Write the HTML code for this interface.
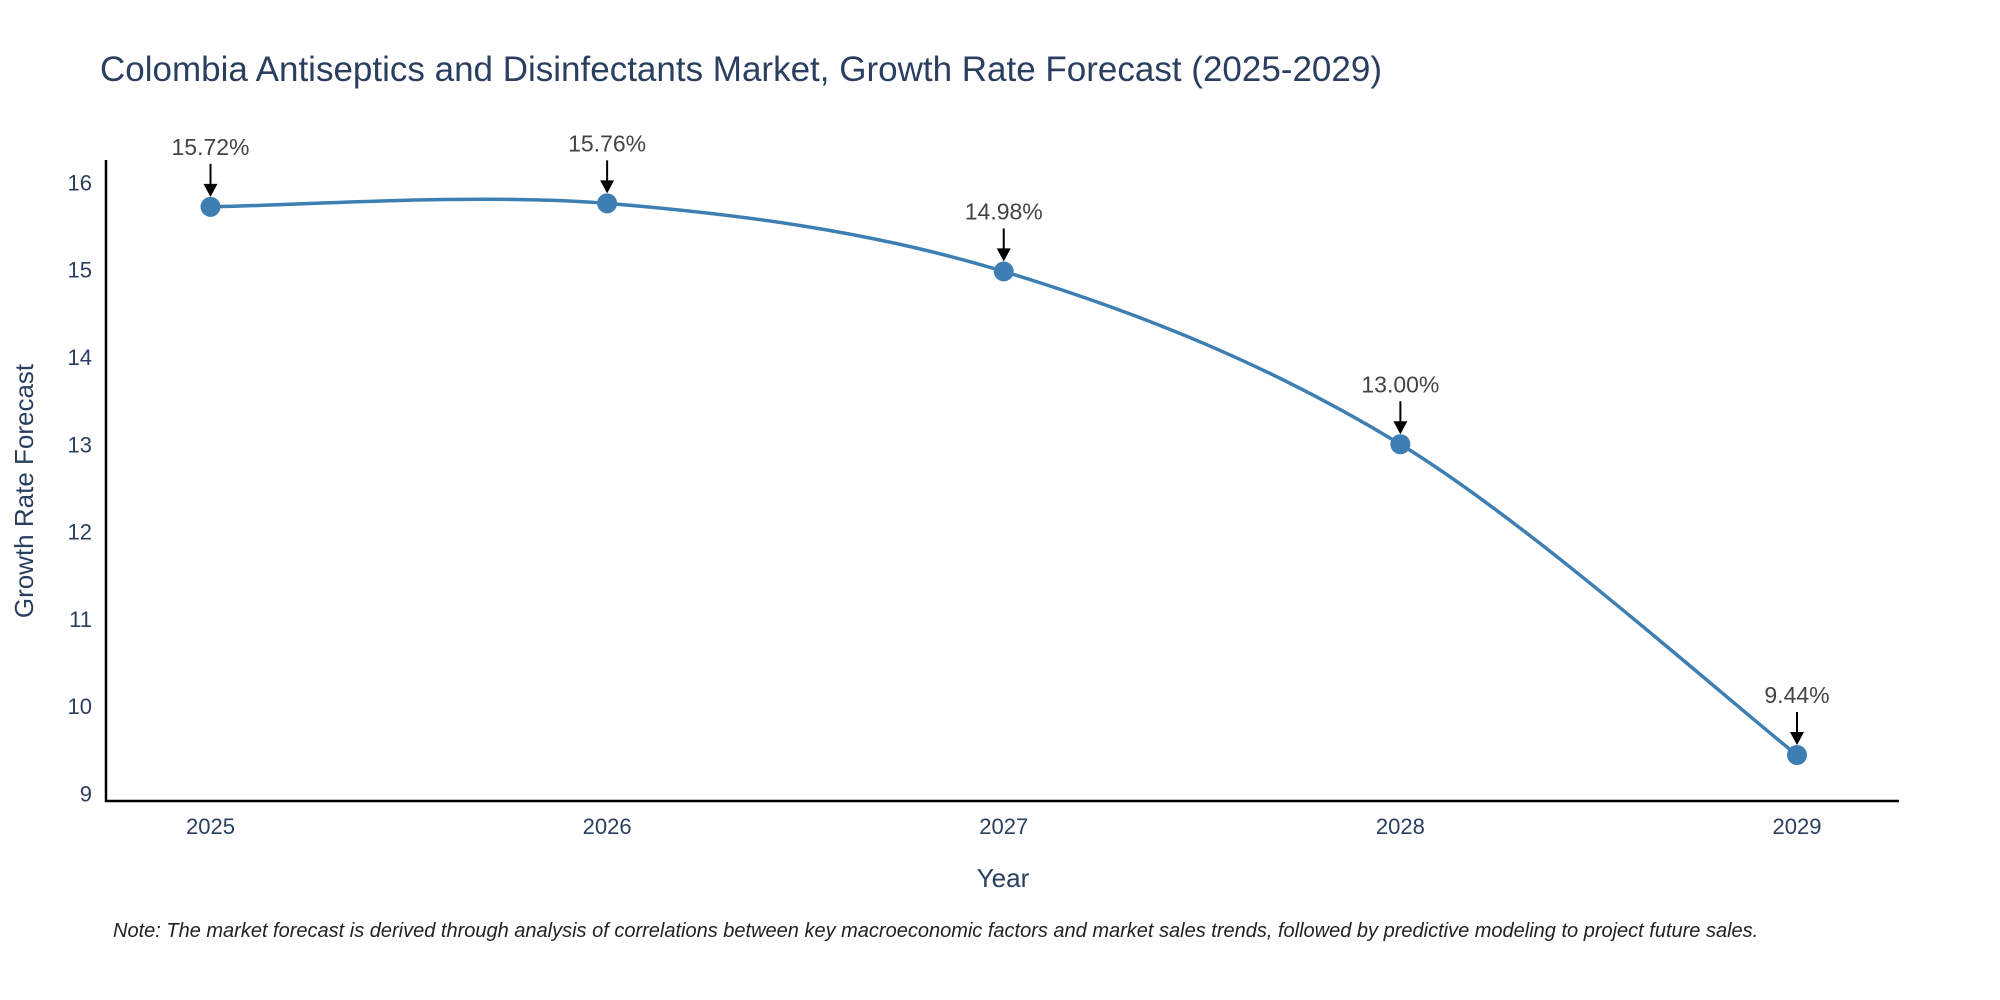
<!DOCTYPE html>
<html><head><meta charset="utf-8"><style>
body{margin:0;background:#fff;}
svg{display:block;font-family:"Liberation Sans",sans-serif;}
</style></head><body>
<svg id="chart" width="2000" height="1000">
<text x="100" y="81" font-size="35" fill="#2a3f5f">Colombia Antiseptics and Disinfectants Market, Growth Rate Forecast (2025-2029)</text>
<g id="yticks"></g><g id="xticks"></g>
<line x1="106" y1="160" x2="106" y2="802" stroke="#000" stroke-width="2.5"/>
<line x1="105" y1="801" x2="1899" y2="801" stroke="#000" stroke-width="2.5"/>
<path id="line" fill="none" stroke="#3d7fb3" stroke-width="3.5"/>
<g id="marks"></g>
<text x="1003" y="887" font-size="26" fill="#2a3f5f" text-anchor="middle">Year</text>
<text transform="translate(33,491) rotate(-90)" font-size="26" fill="#2a3f5f" text-anchor="middle">Growth Rate Forecast</text>
<text x="113" y="937" font-size="20" font-style="italic" fill="#222">Note: The market forecast is derived through analysis of correlations between key macroeconomic factors and market sales trends, followed by predictive modeling to project future sales.</text>
</svg>
<script>
const years=["2025","2026","2027","2028","2029"];
const values=[15.72,15.76,14.98,13.00,9.44];
const labels=["15.72%","15.76%","14.98%","13.00%","9.44%"];
const yTicks=[9,10,11,12,13,14,15,16];
const NS="http://www.w3.org/2000/svg";
const xs=i=>210.5+i*(1797-210.5)/(years.length-1);
const ys=v=>793.4-(v-9)*(793.4-182.4)/7;
function mk(t,a,p){const e=document.createElementNS(NS,t);for(const k in a)e.setAttribute(k,a[k]);p.appendChild(e);return e;}
const yt=document.getElementById('yticks');
yTicks.forEach(v=>{const t=mk('text',{x:92,y:ys(v)+8,'font-size':22,fill:'#2a3f5f','text-anchor':'end'},yt);t.textContent=v;

});
const xt=document.getElementById('xticks');
years.forEach((y,i)=>{const t=mk('text',{x:xs(i),y:834,'font-size':22,fill:'#2a3f5f','text-anchor':'middle'},xt);t.textContent=y;

});
const P=values.map((v,i)=>[xs(i),ys(v)]);
let d=`M${P[0][0]},${P[0][1]}`;
for(let i=0;i<P.length-1;i++){const p0=P[Math.max(0,i-1)],p1=P[i],p2=P[i+1],p3=P[Math.min(P.length-1,i+2)];
const c1=[p1[0]+(p2[0]-p0[0])/6,p1[1]+(p2[1]-p0[1])/6],c2=[p2[0]-(p3[0]-p1[0])/6,p2[1]-(p3[1]-p1[1])/6];
d+=` C${c1[0]},${c1[1]} ${c2[0]},${c2[1]} ${p2[0]},${p2[1]}`;}
document.getElementById('line').setAttribute('d',d);
const m=document.getElementById('marks');
P.forEach((p,i)=>{const c=mk('circle',{cx:p[0],cy:p[1],r:10,fill:'#3d7fb3'},m);


const l=mk('line',{x1:p[0],y1:p[1]-43,x2:p[0],y2:p[1]-22,stroke:'#000','stroke-width':2},m);


const h=mk('polygon',{points:`${p[0]-7},${p[1]-23} ${p[0]+7},${p[1]-23} ${p[0]},${p[1]-10}`,fill:'#000'},m);


const t=mk('text',{x:p[0],y:p[1]-52,'font-size':23,fill:'#444','text-anchor':'middle'},m);t.textContent=labels[i];

});
</script>
</body></html>
